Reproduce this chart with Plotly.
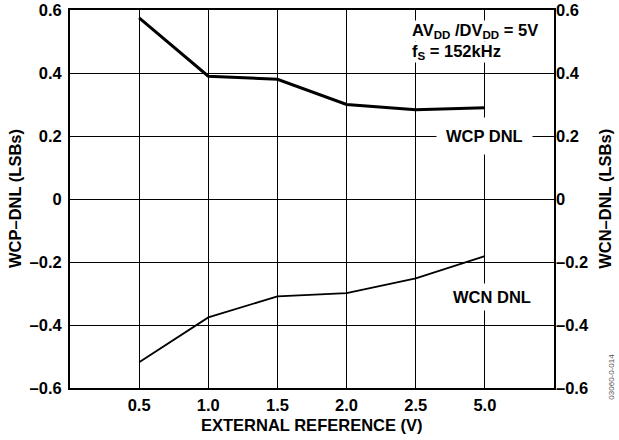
import plotly.graph_objects as go

categories = ["0.5", "1.0", "1.5", "2.0", "2.5", "5.0"]
wcp_dnl = [0.575, 0.39, 0.38, 0.30, 0.283, 0.29]
wcn_dnl = [-0.518, -0.376, -0.309, -0.299, -0.252, -0.181]
y_ticks = [-0.6, -0.4, -0.2, 0, 0.2, 0.4, 0.6]
y_ticktext = ["–0.6", "–0.4", "–0.2", "0", "0.2", "0.4", "0.6"]

FONT = "Liberation Sans, Arial, Helvetica, sans-serif"
FS = 16.5

idx = list(range(len(categories)))

fig = go.Figure()
fig.add_trace(go.Scatter(x=idx, y=wcp_dnl, mode="lines",
                         line=dict(color="black", width=3), showlegend=False))
fig.add_trace(go.Scatter(x=idx, y=wcn_dnl, mode="lines",
                         line=dict(color="black", width=1.8), showlegend=False))
# invisible trace to activate right axis
fig.add_trace(go.Scatter(x=[idx[0]], y=[0], yaxis="y2", mode="markers",
                         marker=dict(opacity=0), showlegend=False, hoverinfo="skip"))

tf = dict(family=FONT, size=FS, color="black", weight="bold")

fig.update_layout(
    width=619, height=440,
    margin=dict(l=70, r=65, t=10, b=52, autoexpand=False),
    paper_bgcolor="white", plot_bgcolor="white",
    font=dict(family=FONT, size=FS, color="black", weight="bold"),
    xaxis=dict(
        range=[-1, 6], tickvals=idx, ticktext=categories,
        showgrid=True, gridcolor="black", gridwidth=1,
        showline=True, linecolor="black", linewidth=2, mirror=True,
        ticks="", ticklabelstandoff=1, zeroline=False, automargin=False,
        tickfont=tf, ticklabeloverflow="allow",
    ),
    yaxis=dict(
        range=[-0.6, 0.6], tickvals=y_ticks, ticktext=y_ticktext,
        showgrid=True, gridcolor="black", gridwidth=1,
        showline=True, linecolor="black", linewidth=2, mirror=True,
        ticks="", ticklabelstandoff=3, zeroline=False, automargin=False,
        tickfont=tf, ticklabeloverflow="allow",
    ),
    yaxis2=dict(
        range=[-0.6, 0.6], tickvals=y_ticks, ticktext=y_ticktext,
        overlaying="y", side="right", showgrid=False, zeroline=False,
        showline=False, ticks="", ticklabelstandoff=1, automargin=False,
        tickfont=tf, ticklabeloverflow="allow",
    ),
)

ann_font = dict(family=FONT, size=FS, color="black", weight="bold")
annotations = [
    dict(text="EXTERNAL REFERENCE (V)", xref="paper", yref="paper",
         x=0.5, y=-0.098, xanchor="center", yanchor="middle",
         showarrow=False, font=ann_font),
    dict(text="WCP–DNL (LSBs)", xref="paper", yref="paper",
         x=-0.1136, y=0.5, xanchor="center", yanchor="middle", textangle=-90,
         showarrow=False, font=ann_font),
    dict(text="WCN–DNL (LSBs)", xref="paper", yref="paper",
         x=1.105, y=0.5, xanchor="center", yanchor="middle", textangle=-90,
         showarrow=False, font=ann_font),
    dict(text="WCP DNL", x=5, y=0.2, xref="x", yref="y",
         xanchor="center", yanchor="middle", showarrow=False,
         bgcolor="white", borderpad=9, font=ann_font),
    dict(text="WCN DNL", x=5.1, y=-0.311, xref="x", yref="y",
         xanchor="center", yanchor="middle", showarrow=False,
         bgcolor="white", borderpad=4, font=ann_font),
    dict(text="AV<sub>DD</sub> /DV<sub>DD</sub> = 5V", x=3.93, y=0.533,
         xref="x", yref="y", xanchor="left", yanchor="middle",
         showarrow=False, bgcolor="white", borderpad=0, font=ann_font),
    dict(text="f<sub>S</sub> = 152kHz", x=3.93, y=0.468,
         xref="x", yref="y", xanchor="left", yanchor="middle",
         showarrow=False, bgcolor="white", borderpad=0, font=ann_font),
    dict(text="03060-0-014", xref="paper", yref="paper",
         x=1.0, y=0.03, xanchor="center", yanchor="middle", textangle=-90,
         xshift=58, showarrow=False,
         font=dict(family=FONT, size=8, color="#555555", weight="normal")),
]
fig.update_layout(annotations=annotations)

# remove the browser's default 8px body margin so the figure sits at 0,0
fig.write_html("out.html", config={"displayModeBar": False},
               post_script="document.body.style.margin='0px';")
